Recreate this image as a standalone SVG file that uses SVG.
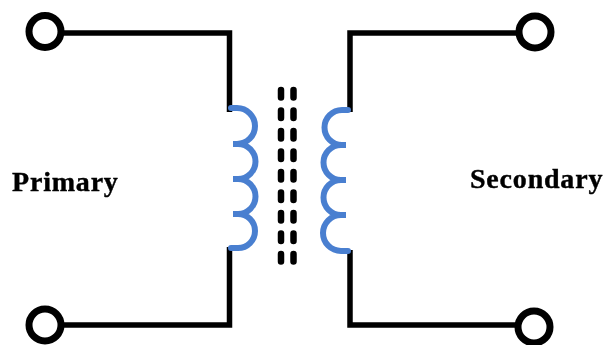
<svg xmlns="http://www.w3.org/2000/svg" width="605" height="345" viewBox="0 0 605 345">
<defs><filter id="soft" x="-5%" y="-5%" width="110%" height="110%"><feGaussianBlur stdDeviation="0.55"/></filter></defs>
<style>
.w{fill:none;stroke:#000;stroke-width:5.500}
.t{fill:#fff;stroke:#000;stroke-width:7}
.c{fill:none;stroke:#4a7fd0;stroke-width:6;stroke-linecap:round}
.d{fill:none;stroke:#000;stroke-width:6.500;stroke-linecap:round;stroke-dasharray:7.500 13}
.l{font-family:"Liberation Serif","Times New Roman",serif;font-weight:bold;font-size:28px;letter-spacing:0.8px;fill:#000;stroke:#000;stroke-width:0.4}
</style>
<rect width="605" height="345" fill="#fff"/>
<g filter="url(#soft)">
<g id="connectors">
<path class="w" d="M64 33H229.500V112"/>
<path class="w" d="M64 325H229.500V247"/>
<path class="w" d="M516 33H350V112"/>
<path class="w" d="M516 325H350V250"/>
</g>
<g id="primary-coil"><path class="c" d="M231 108H237A18 18 0 0 1 237 144H233H238A17.500 17.500 0 0 1 238 179H233H238A17.500 17.500 0 0 1 238 214H233H238A17 17 0 0 1 238 248H231"/></g>
<g id="secondary-coil"><path class="c" d="M348 110H342A17.500 17.500 0 0 0 342 145H346H341A17.500 17.500 0 0 0 341 180H346H341A17.500 17.500 0 0 0 341 215H346H341A18 18 0 0 0 341 251H348"/></g>
<g id="core">
<path class="d" d="M281 90V264"/>
<path class="d" d="M293.500 90V264"/>
</g>
<g id="terminal-top-left"><circle class="t" cx="45" cy="31.500" r="16"/></g>
<g id="terminal-bottom-left"><circle class="t" cx="45" cy="325" r="16"/></g>
<g id="terminal-top-right"><circle class="t" cx="535" cy="32" r="16"/></g>
<g id="terminal-bottom-right"><circle class="t" cx="534" cy="327" r="16"/></g>
<g id="label-primary"><text class="l" x="12" y="191">Primary</text></g>
<g id="label-secondary"><text class="l" x="470" y="188">Secondary</text></g>
</g>
</svg>
